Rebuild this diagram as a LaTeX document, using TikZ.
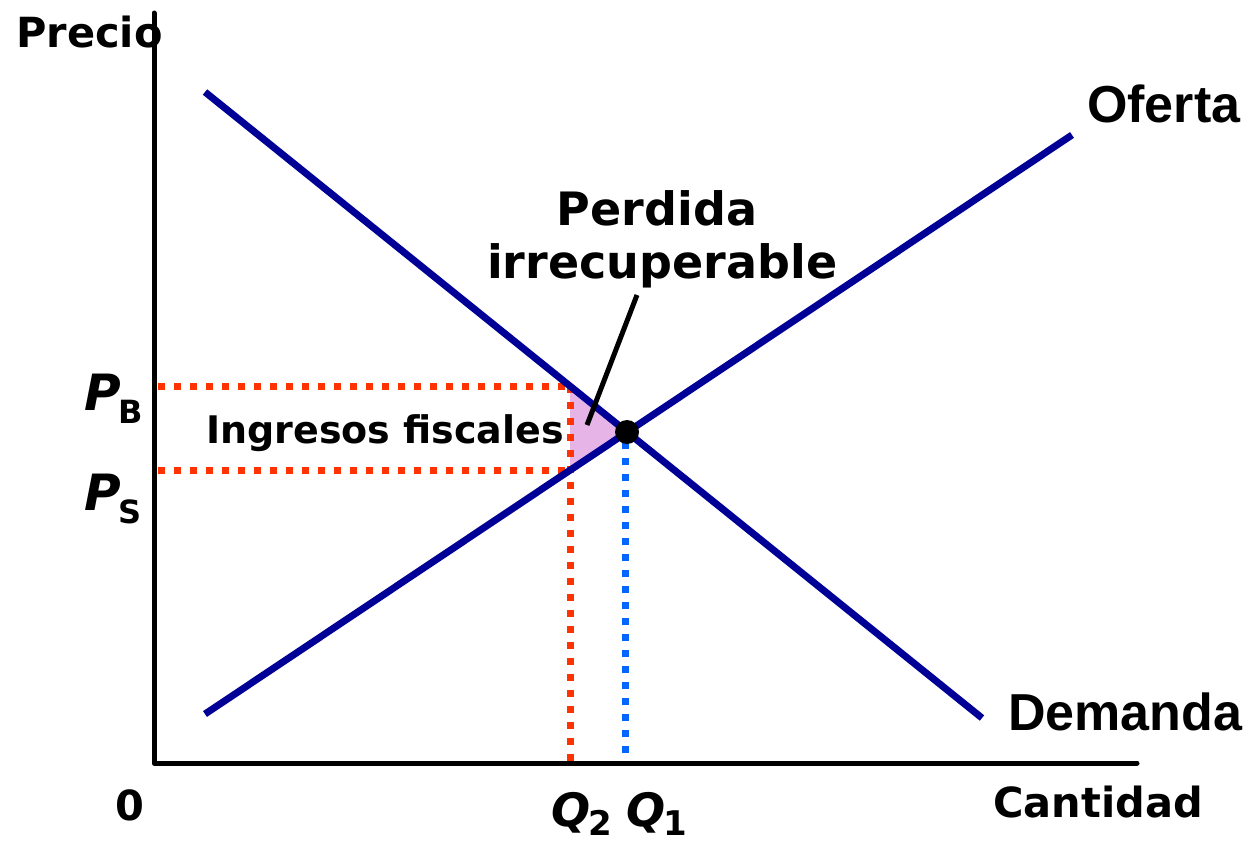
\documentclass[tikz,border=0pt]{standalone}
\usepackage{fontspec}
\setmainfont{DejaVu Sans}
\newfontfamily\arialf{Liberation Sans}
\usetikzlibrary{calc}
\definecolor{dblue}{RGB}{0,0,150}
\definecolor{dred}{RGB}{255,51,0}
\definecolor{lblue}{RGB}{0,102,255}
\definecolor{lpurple}{RGB}{230,180,230}
\tikzset{
  lbl/.style={inner sep=0pt, anchor=base west, font=\bfseries},
  dotline/.style={line width=7pt, dash pattern=on 7pt off 9pt},
  curveline/.style={draw=dblue, line width=7pt},
  axisline/.style={draw=black, line width=5pt, line cap=round, line join=round},
}
\newcommand{\fsz}[1]{\fontsize{#1pt}{#1pt}\selectfont}
\begin{document}
\begin{tikzpicture}[x=1pt,y=-1pt]
\useasboundingbox (0,0) rectangle (1250,843);
% key points
\coordinate (D1) at (205,92);
\coordinate (D2) at (982,718);
\coordinate (S1) at (205,714);
\coordinate (S2) at (1072,135);
\coordinate (E) at (627,432);
\coordinate (PBc) at (570,386);
\coordinate (PSc) at (570,470);
\coordinate (PBy) at (158,386);
\coordinate (PSy) at (158,470);
\coordinate (Q2x) at (570,763);
\coordinate (Q1x) at (625,763);
\coordinate (Q1top) at (625,442);
\coordinate (O) at (154,763);
\coordinate (Ytop) at (154,13);
\coordinate (Xend) at (1137,763);
\coordinate (ldtop) at (637,295);
\coordinate (ldbot) at (587,425);
% deadweight triangle
\fill[lpurple] (PBc) -- (E) -- (PSc) -- cycle;
% dotted guides
\draw[dotline, dred] (PBy) -- (PBc);
\draw[dotline, dred] (PSy) -- (PSc);
\draw[dotline, dred] (PBc) -- (Q2x);
\draw[dotline, lblue] (Q1top) -- (Q1x);
% curves
\draw[curveline] (D1) -- (D2);
\draw[curveline] (S1) -- (S2);
\fill[black] (E) circle (12);
% leader
\draw[black, line width=5pt] (ldtop) -- (ldbot);
% labels
\node[lbl, font=\bfseries\fsz{41.5}] (precio) at (16,48) {Precio};
\node[lbl, font=\bfseries\fsz{41.5}] (cant) at (993,817) {Cantidad};
\node[lbl, font=\bfseries\fsz{41.5}] (zero) at (115,820) {0};
\node[lbl, font=\arialf\bfseries\fsz{52}] (oferta) at (1087,122) {Oferta};
\node[lbl, font=\arialf\bfseries\fsz{52}] (demanda) at (1008,730) {Demanda};
\node[lbl, font=\bfseries\fsz{46}, anchor=base] (perd1) at (657,225) {Perdida};
\node[lbl, font=\bfseries\fsz{46}] (perd2) at (487,278) {irrecuperable};
\node[lbl, font=\bfseries\fsz{38}] (ingr) at (206,443) {Ingresos fiscales};
\node[lbl, font=\bfseries\fsz{50}] (pb) at (84,410) {\itshape P\kern-2pt\raisebox{-13pt}{\upshape\fsz{32}B}};
\node[lbl, font=\bfseries\fsz{50}] (ps) at (84,510) {\itshape P\kern-2pt\raisebox{-13pt}{\upshape\fsz{32}S}};
\node[lbl, font=\bfseries\fsz{46}] (q2) at (551,826) {\itshape Q\kern-2pt\raisebox{-9pt}{\upshape\fsz{34}2}};
\node[lbl, font=\bfseries\fsz{46}] (q1) at (626,826) {\itshape Q\kern-2pt\raisebox{-9pt}{\upshape\fsz{34}1}};
% axes
\draw[axisline] (Ytop) -- (O) -- (Xend);
\end{tikzpicture}
\end{document}
